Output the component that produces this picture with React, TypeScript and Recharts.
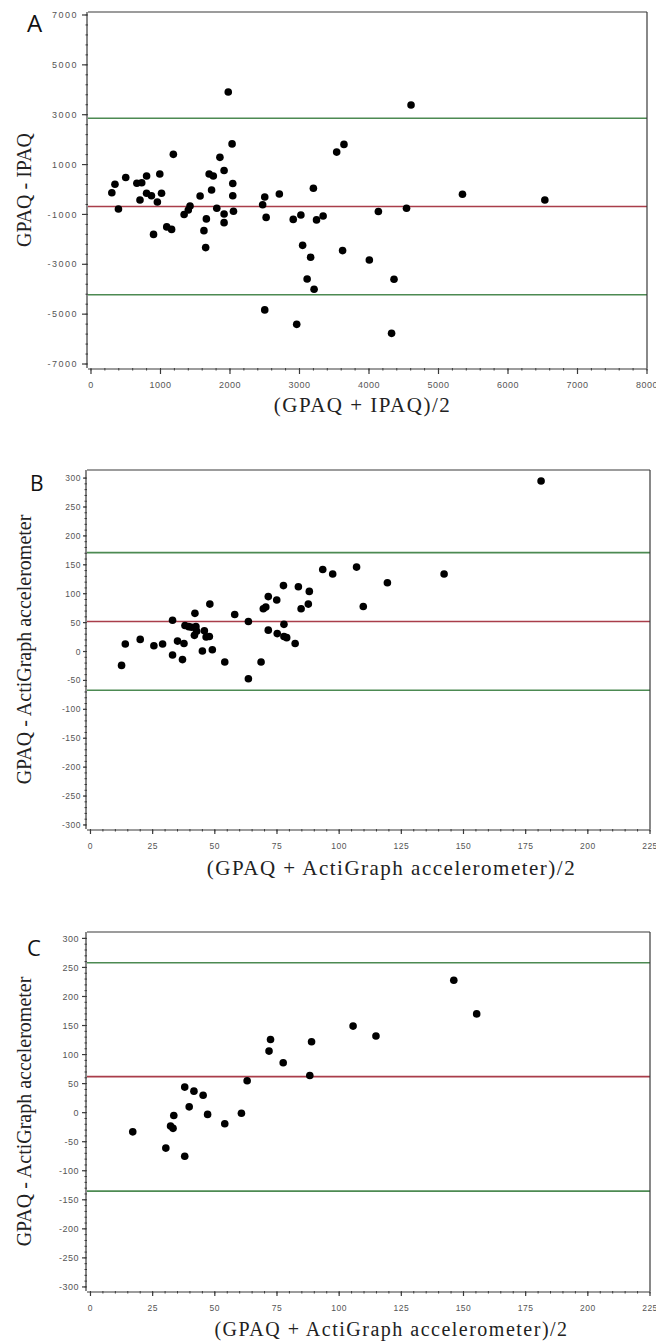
import React from 'react';
import { ScatterChart, Scatter, XAxis, YAxis, ReferenceLine, Label } from 'recharts';

// ---------- Panel A : GPAQ vs IPAQ ----------
const panelAMean = [300, 345, 500, 395, 660, 730, 705, 800, 800, 870, 955, 990, 1015, 900, 1185, 1090, 1160, 1340, 1400, 1425, 1570, 1625, 1660, 1650, 1700, 1760, 1735, 1810, 1855, 1915, 1915, 1915, 1975, 2030, 2040, 2040, 2050, 2470, 2500, 2520, 2500, 2710, 2910, 2960, 3020, 3045, 3160, 3110, 3200, 3210, 3245, 3340, 4605, 3535, 3640, 5345, 6530, 4135, 4540, 3620, 4005, 4360, 4325];
const panelADiff = [-130, 210, 480, -780, 250, 270, -420, 540, -150, -250, -500, 620, -150, -1800, 1410, -1500, -1600, -1000, -820, -660, -260, -1650, -1180, -2330, 620, 540, -20, -750, 1290, 760, -980, -1330, 3910, 1830, 240, -250, -870, -610, -300, -1120, -4830, -180, -1200, -5410, -1020, -2240, -2720, -3590, 50, -4000, -1220, -1060, 3390, 1500, 1810, -190, -420, -880, -750, -2450, -2830, -3600, -5770];
const panelALimits = [2860, -680, -4220]; // upper LoA, mean, lower LoA
const panelAXTicks = [0, 1000, 2000, 3000, 4000, 5000, 6000, 7000, 8000];
const panelAYTicks = [-7000, -5000, -3000, -1000, 1000, 3000, 5000, 7000];

// ---------- Panel B : GPAQ vs ActiGraph ----------
const panelBMean = [12.5, 14, 20, 25.5, 29, 33, 33, 35, 37, 37.6, 38, 39.5, 40.7, 41.8, 42, 42.4, 42.7, 45, 45.8, 46.5, 47.8, 48, 49, 54, 58, 63.5, 63.5, 68.6, 69.5, 70.5, 71.5, 71.5, 74.9, 75.1, 77.6, 77.8, 77.8, 78.9, 82.3, 83.6, 84.7, 87.6, 88, 93.4, 97.4, 107, 109.7, 119.4, 142.2, 181.2];
const panelBDiff = [-24, 13, 21, 10, 13, -6, 54, 18, -14, 14, 45, 43, 42, 28, 66, 43, 35, 1, 36, 25, 26, 82, 3, -18, 64, 52, -47, -18, 74, 77, 95, 37, 89, 31, 114, 47, 26, 24, 14, 112, 74, 82, 104, 142, 134, 146, 78, 119, 134, 295];
const panelBLimits = [171, 52, -67];

// ---------- Panel C : GPAQ vs ActiGraph (subgroup) ----------
const panelCMean = [17, 30.3, 32.2, 33.2, 33.5, 37.9, 37.9, 39.7, 41.6, 45.3, 47.1, 54, 60.7, 63, 71.8, 72.4, 77.5, 88.2, 88.9, 105.6, 114.8, 146.1, 155.3];
const panelCDiff = [-33, -61, -23, -27, -5, 44, -75, 10, 37, 30, -3, -19, -1, 55, 106, 126, 86, 64, 122, 149, 132, 228, 170];
const panelCLimits = [258, 62, -135];

const accelXTicks = [0, 25, 50, 75, 100, 125, 150, 175, 200, 225];
const accelYTicks = [-300, -250, -200, -150, -100, -50, 0, 50, 100, 150, 200, 250, 300];

const range = (a: number, b: number, step: number) => {
  const out: number[] = [];
  for (let v = a; v <= b + 1e-9; v += step) out.push(Math.round(v * 1000) / 1000);
  return out;
};

const GREEN = '#4c8a52';
const RED = '#a93d4a';
const BOX = '#3a3a3a';
const SERIF = "'Liberation Serif', 'Times New Roman', serif";
const SANS = "'Liberation Sans', Arial, sans-serif";

type TickCfg = { size: number; margin: number; font: number; spacing: number };
type PanelProps = {
  top: number;
  height: number;
  margin: { top: number; right: number; bottom: number; left: number };
  xs: number[];
  ys: number[];
  limits: number[];
  xDomain: [number, number];
  yDomain: [number, number];
  xTicks: number[];
  yTicks: number[];
  xMinor: number[];
  yMinor: number[];
  xTitle: string;
  yTitle: string;
  xTitleY: number;
  xTitleShift: number;
  xTitleSize: number;
  yTitleX: number;
  yTick: TickCfg;
  xTick: TickCfg;
};

const W = 656;
const YW = 50;
const XH = 24;

const Dot = (props: any) => {
  const { cx, cy } = props;
  if (cx == null || cy == null) return <g />;
  return <circle cx={cx} cy={cy} r={3.8} fill="#000" />;
};

const EmptyShape = () => <g />;
const EmptyTick = () => <g />;

function Panel(p: PanelProps) {
  const data = p.xs.map((x, i) => ({ x, y: p.ys[i] }));
  const plotLeft = p.margin.left + YW + 1;
  const plotRight = W - p.margin.right - 1;
  const plotTop = p.margin.top + 1;
  const plotBottom = p.height - p.margin.bottom - XH - 1;
  const xCenter = (plotLeft + plotRight) / 2 + p.xTitleShift;
  const yCenter = (plotTop + plotBottom) / 2;
  return (
    <div style={{ position: 'absolute', left: 0, top: p.top, width: W, height: p.height }}>
      <ScatterChart width={W} height={p.height} margin={p.margin}>
        {/* minor tick axes (default ids, which sit against the plot area) */}
        <XAxis
          type="number"
          dataKey="x"
          domain={p.xDomain}
          ticks={p.xMinor}
          interval={0}
          allowDataOverflow
          height={1}
          axisLine={false}
          tick={EmptyTick}
          tickSize={2.5}
          tickLine={{ stroke: BOX }}
        />
        <YAxis
          type="number"
          dataKey="y"
          domain={p.yDomain}
          ticks={p.yMinor}
          interval={0}
          allowDataOverflow
          width={1}
          axisLine={false}
          tick={EmptyTick}
          tickSize={2.5}
          tickLine={{ stroke: BOX }}
        />
        {/* main axes */}
        <XAxis
          xAxisId="main"
          type="number"
          dataKey="x"
          domain={p.xDomain}
          ticks={p.xTicks}
          interval={0}
          allowDataOverflow
          height={XH}
          stroke={BOX}
          strokeWidth={1.2}
          tickSize={p.xTick.size}
          tickMargin={p.xTick.margin}
          tick={{ fontSize: p.xTick.font, fill: '#555', fontFamily: SANS, letterSpacing: p.xTick.spacing }}
        >
          <Label
            content={() => (
              <text
                x={xCenter}
                y={p.xTitleY}
                textAnchor="middle"
                dominantBaseline="central"
                fontFamily={SERIF}
                fontSize={p.xTitleSize}
                letterSpacing={1.5}
                fill="#222"
              >
                {p.xTitle}
              </text>
            )}
          />
        </XAxis>
        <YAxis
          yAxisId="main"
          type="number"
          dataKey="y"
          domain={p.yDomain}
          ticks={p.yTicks}
          interval={0}
          allowDataOverflow
          width={YW}
          stroke={BOX}
          strokeWidth={1.2}
          tickSize={p.yTick.size}
          tickMargin={p.yTick.margin}
          tick={{ fontSize: p.yTick.font, fill: '#555', fontFamily: SANS, letterSpacing: p.yTick.spacing }}
        >
          <Label
            content={() => (
              <text
                x={p.yTitleX}
                y={yCenter}
                transform={`rotate(-90, ${p.yTitleX}, ${yCenter})`}
                textAnchor="middle"
                dominantBaseline="central"
                fontFamily={SERIF}
                fontSize={20}
                fill="#222"
              >
                {p.yTitle}
              </text>
            )}
          />
        </YAxis>
        {/* frame: top and right edges */}
        <XAxis
          xAxisId="frameTop"
          orientation="top"
          type="number"
          dataKey="x"
          domain={p.xDomain}
          allowDataOverflow
          height={1}
          tick={false}
          tickLine={false}
          stroke={BOX}
          strokeWidth={1.2}
        />
        <YAxis
          yAxisId="frameRight"
          orientation="right"
          type="number"
          dataKey="y"
          domain={p.yDomain}
          allowDataOverflow
          width={1}
          tick={false}
          tickLine={false}
          stroke={BOX}
          strokeWidth={1.2}
        />
        <ReferenceLine xAxisId="main" yAxisId="main" y={p.limits[0]} stroke={GREEN} strokeWidth={1.6} />
        <ReferenceLine xAxisId="main" yAxisId="main" y={p.limits[1]} stroke={RED} strokeWidth={1.6} />
        <ReferenceLine xAxisId="main" yAxisId="main" y={p.limits[2]} stroke={GREEN} strokeWidth={1.6} />
        {/* invisible series bound to the helper axes */}
        <Scatter data={data} shape={EmptyShape} isAnimationActive={false} />
        <Scatter data={data} xAxisId="frameTop" yAxisId="frameRight" shape={EmptyShape} isAnimationActive={false} />
        <Scatter data={data} xAxisId="main" yAxisId="main" shape={Dot} isAnimationActive={false} />
      </ScatterChart>
    </div>
  );
}

const letterStyle = (left: number, top: number, size: number): React.CSSProperties => ({
  position: 'absolute',
  left,
  top,
  fontFamily: "'Open Sans', 'Liberation Sans', sans-serif",
  fontSize: size,
  lineHeight: 1,
  color: '#111',
});

export default function App() {
  return (
    <div style={{ position: 'absolute', left: 0, top: 0, width: 656, height: 1341, background: '#fff', overflow: 'hidden' }}>
      <Panel
        top={0}
        height={420}
        margin={{ top: 11, right: 8, bottom: 27, left: 37 }}
        xs={panelAMean}
        ys={panelADiff}
        limits={panelALimits}
        xDomain={[-43, 8000]}
        yDomain={[-7160, 7120]}
        xTicks={panelAXTicks}
        yTicks={panelAYTicks}
        xMinor={range(0, 8000, 200)}
        yMinor={range(-7000, 7000, 400)}
        xTitle="(GPAQ + IPAQ)/2"
        yTitle="GPAQ - IPAQ"
        xTitleY={405}
        xTitleShift={-5}
        xTitleSize={21}
        yTitleX={24}
        yTick={{ size: 5, margin: 4, font: 9, spacing: 1.5 }}
        xTick={{ size: 5, margin: 8, font: 9, spacing: 0.5 }}
      />
      <Panel
        top={440}
        height={450}
        margin={{ top: 29, right: 5, bottom: 36, left: 36 }}
        xs={panelBMean}
        ys={panelBDiff}
        limits={panelBLimits}
        xDomain={[-1.4, 225]}
        yDomain={[-307, 314]}
        xTicks={accelXTicks}
        yTicks={accelYTicks}
        xMinor={range(0, 225, 5)}
        yMinor={range(-300, 300, 10)}
        xTitle="(GPAQ + ActiGraph accelerometer)/2"
        yTitle="GPAQ - ActiGraph accelerometer"
        xTitleY={428}
        xTitleShift={23}
        xTitleSize={21}
        yTitleX={24}
        yTick={{ size: 3, margin: 2, font: 8.5, spacing: 0.5 }}
        xTick={{ size: 4, margin: 9, font: 8.5, spacing: 0.5 }}
      />
      <Panel
        top={890}
        height={451}
        margin={{ top: 41, right: 5, bottom: 25, left: 36 }}
        xs={panelCMean}
        ys={panelCDiff}
        limits={panelCLimits}
        xDomain={[-1.4, 225]}
        yDomain={[-307, 311]}
        xTicks={accelXTicks}
        yTicks={accelYTicks}
        xMinor={range(0, 225, 5)}
        yMinor={range(-300, 300, 10)}
        xTitle="(GPAQ + ActiGraph accelerometer)/2"
        yTitle="GPAQ - ActiGraph accelerometer"
        xTitleY={439}
        xTitleShift={23}
        xTitleSize={20}
        yTitleX={24}
        yTick={{ size: 4, margin: 3, font: 9, spacing: 0.5 }}
        xTick={{ size: 4, margin: 9, font: 8.5, spacing: 0.5 }}
      />
      <div style={letterStyle(27, 11, 24)}>A</div>
      <div style={letterStyle(30, 473, 21)}>B</div>
      <div style={letterStyle(27, 936, 22)}>C</div>
    </div>
  );
}
